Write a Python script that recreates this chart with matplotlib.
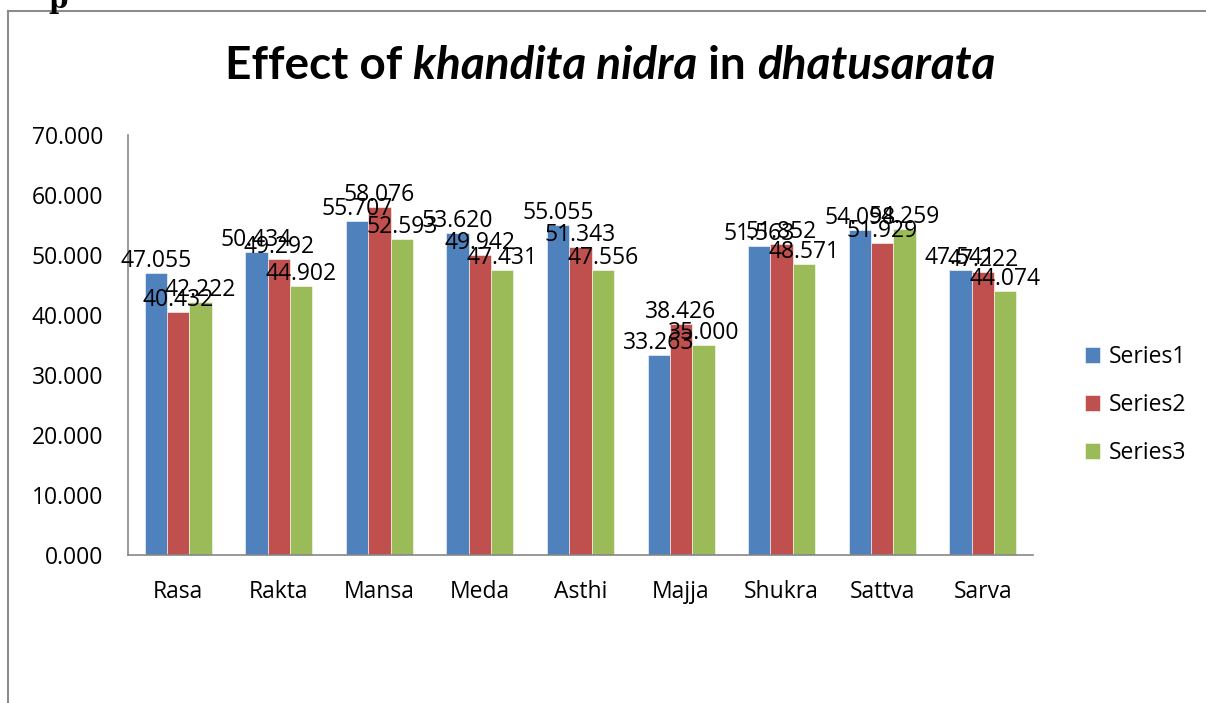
import numpy as np
import matplotlib
matplotlib.use("Agg")
from matplotlib import pyplot as plt
from matplotlib.lines import Line2D

plt.rcParams['font.family'] = ['Open Sans', 'DejaVu Sans']

categories = ["Rasa", "Rakta", "Mansa", "Meda", "Asthi", "Majja", "Shukra", "Sattva", "Sarva"]
series_names = ["Series1", "Series2", "Series3"]
series1 = [47.055, 50.434, 55.707, 53.620, 55.055, 33.263, 51.563, 54.098, 47.541]
series2 = [40.432, 49.292, 58.076, 49.942, 51.343, 38.426, 51.852, 51.929, 47.222]
series3 = [42.222, 44.902, 52.593, 47.431, 47.556, 35.000, 48.571, 54.259, 44.074]
yticks = [0, 10, 20, 30, 40, 50, 60, 70]

colors = ["#4F81BD", "#C0504D", "#9BBB59"]
W, H = 1206, 703
fs = 16.5

fig = plt.figure(figsize=(W / 100, H / 100), dpi=100)
ax = fig.add_axes([128 / W, 1 - 555 / H, 905 / W, 420 / H])

x = np.arange(len(categories))
bw = 0.222
for i, (vals, name) in enumerate(zip([series1, series2, series3], series_names)):
    bars = ax.bar(x + (i - 1) * bw, vals, bw, color=colors[i], label=name,
                  edgecolor="white", linewidth=0.4)
    ax.bar_label(bars, fmt="%.3f", padding=0, fontsize=fs)

ax.set_xlim(-0.5, len(categories) - 0.5)
ax.set_ylim(0, 70)
ax.set_yticks(yticks)
ax.set_yticklabels(["%.3f" % v for v in yticks], fontsize=fs)
ax.set_xticks(x)
ax.set_xticklabels(categories, fontsize=fs)
ax.tick_params(axis="x", length=0, pad=18)
ax.tick_params(axis="y", length=0, pad=18)
for s in ["top", "right"]:
    ax.spines[s].set_visible(False)
for s in ["left", "bottom"]:
    ax.spines[s].set_color("#868686")
    ax.spines[s].set_linewidth(1.2)

leg = ax.legend(loc="center left", bbox_to_anchor=(1074 / W, 1 - 405 / H),
                bbox_transform=fig.transFigure, frameon=False, fontsize=fs,
                handlelength=0.65, handleheight=0.65, labelspacing=1.05,
                handletextpad=0.35, borderpad=0)

# outer chart frame (left and top edges visible)
fig.add_artist(Line2D([8 / W, 8 / W], [0, 1 - 11 / H], color="#8c8c8c", lw=1.5))
fig.add_artist(Line2D([8 / W, 1], [1 - 11 / H, 1 - 11 / H], color="#8c8c8c", lw=1.5))
fig.text(48 / W, 1 - 1 / H, "p", fontsize=20, fontweight="bold", family="DejaVu Serif",
         ha="left", va="center")

# title with mixed bold / bold italic pieces
pieces = [("Effect of ", "normal"), ("khandita nidra", "italic"), (" in ", "normal"),
          ("dhatusarata", "italic")]
texts = []
for txt, style in pieces:
    texts.append(fig.text(0, 1 - 79 / H, txt, fontsize=33, fontweight="bold",
                          style=style, ha="left", va="baseline", family="Lato"))
fig.canvas.draw()
r = fig.canvas.get_renderer()
widths = [t.get_window_extent(r).width for t in texts]
xpos = 610 - sum(widths) / 2
for t, w in zip(texts, widths):
    t.set_x(xpos / W)
    xpos += w

fig.savefig("out.png", dpi=100)
